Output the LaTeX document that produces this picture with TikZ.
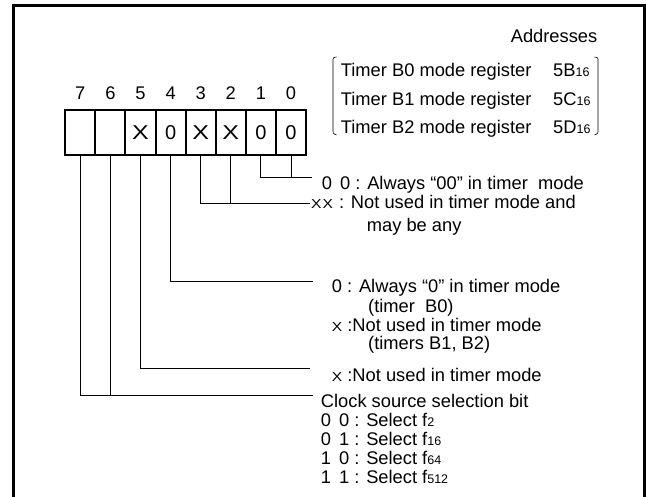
\documentclass[tikz,border=0pt]{standalone}
\usepackage{fontspec}
\setmainfont{Liberation Sans}
\usetikzlibrary{positioning}

\newcommand\smallnum[1]{{\fontsize{12.5}{12.5}\selectfont #1}}
\newcommand\crs{\scalebox{1.2}[1]{\fontsize{13}{13}\selectfont X}}
\newcommand\bigx{\scalebox{1.25}[1]{X}}

\tikzset{
  cell/.style={draw, line width=2pt, minimum width=30.1pt, minimum height=45.6pt,
    inner sep=0pt, font=\fontsize{20}{20}\selectfont},
  bitnum/.style={anchor=base, inner sep=0pt, font=\fontsize{18.3}{19}\selectfont},
  lbl/.style={anchor=base west, inner sep=0pt, font=\fontsize{18.3}{19}\selectfont},
  lead/.style={line width=0.9pt},
}

\begin{document}
\begin{tikzpicture}[x=1pt,y=-1pt]
    \useasboundingbox (0,0) rectangle (646,497);
    % frame
    \draw[line width=2.5pt] (13.3,505) -- (13.3,5.7) -- (644.3,5.7) -- (644.3,505);

    % register bits
    \foreach \b/\v in {7/,6/,5/\bigx,4/0,3/\bigx,2/\bigx,1/0,0/0} {
      \node[cell] (c\b) at ({80.3+(7-\b)*30.1},132.5) {\v};
      \node[bitnum] (n\b) at ({80.3+(7-\b)*30.1},99.5) {\b};
    }

    % addresses
    \node[lbl, anchor=base east] (addr) at (597.5,42.5) {Addresses};
    \node[lbl] (rb0) at (340.7,76.5) {Timer B0 mode register};
    \node[lbl] (rb1) at (340.7,105.5) {Timer B1 mode register};
    \node[lbl] (rb2) at (340.7,133.5) {Timer B2 mode register};
    \node[lbl] (ab0) at (553,76.5) {5B\smallnum{16}};
    \node[lbl] (ab1) at (553,105.5) {5C\smallnum{16}};
    \node[lbl] (ab2) at (553,133.5) {5D\smallnum{16}};
    \draw[line width=0.6pt] (336.5,57) .. controls (333,57.5) .. (333,61.5) -- (333,129.5)
      .. controls (333,133.5) .. (336.5,135);
    \draw[line width=0.6pt] (594.5,57) .. controls (598,57.5) .. (598,61.5) -- (598,129.5)
      .. controls (598,133.5) .. (594.5,135);

    % descriptions
    \node[lbl] (t10) at (321.7,189.5) {0\hspace{3pt} 0 : Always “00” in timer\ \ mode};
    \node[lbl] (t32) at (311,209) {\crs\hspace{1pt}\crs\hspace{1pt} : Not used in timer mode and};
    \node[lbl] (t32b) at (366.7,231.5) {may be any};
    \node[lbl] (t4) at (331.7,293) {0 : Always “0” in timer mode};
    \node[lbl] (t4b) at (368,313) {(timer\ \ B0)};
    \node[lbl] (t4c) at (331.7,331.5) {\crs\ :Not used in timer mode};
    \node[lbl] (t4d) at (368,350) {(timers B1, B2)};
    \node[lbl] (t5) at (331.7,381.5) {\crs\ :Not used in timer mode};
    \node[lbl] (t76) at (320.7,407) {Clock source selection bit};
    \node[lbl] (s00) at (320.7,426.5) {0\hspace{3pt} 0 : Select f\smallnum{2}};
    \node[lbl] (s01) at (320.7,445) {0\hspace{3pt} 1 : Select f\smallnum{16}};
    \node[lbl] (s10) at (320.7,464) {1\hspace{3pt} 0 : Select f\smallnum{64}};
    \node[lbl] (s11) at (320.7,483.5) {1\hspace{3pt} 1 : Select f\smallnum{512}};

    % leader lines
    \coordinate (e10) at (312,177);
    \coordinate (e32) at (310,203);
    \coordinate (e4) at (313,281);
    \coordinate (e5) at (310,368);
    \coordinate (e76) at (313,395);
    \draw[lead] (c1.south) |- (e10);
    \draw[lead] (c0.south) -- (c0.south |- e10);
    \draw[lead] (c3.south) |- (e32);
    \draw[lead] (c2.south) -- (c2.south |- e32);
    \draw[lead] (c4.south) |- (e4);
    \draw[lead] (c5.south) |- (e5);
    \draw[lead] (c7.south) |- (e76);
    \draw[lead] (c6.south) -- (c6.south |- e76);
\end{tikzpicture}
\end{document}
